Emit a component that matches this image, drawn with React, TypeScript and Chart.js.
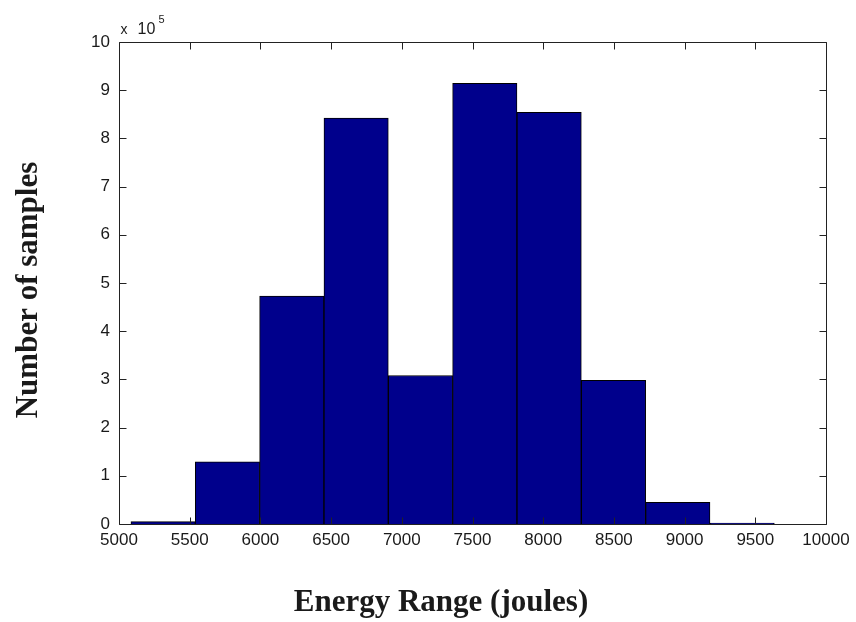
import React, { useEffect, useRef } from "react";
import { Chart, registerables } from "chart.js";

Chart.register(...registerables);

// Histogram bin centres (joules) and sample counts
const binCenters = [5312, 5767, 6222, 6677, 7132, 7587, 8042, 8497, 8952, 9407];
const sampleCounts = [5000, 129000, 473000, 842000, 308000, 914000, 854000, 298000, 45000, 2000];
const xTickValues = [5000, 5500, 6000, 6500, 7000, 7500, 8000, 8500, 9000, 9500, 10000];
const yTickValues = [0, 100000, 200000, 300000, 400000, 500000, 600000, 700000, 800000, 900000, 1000000];
const yExponent = 5;
const xTitle = "Energy Range (joules)";
const yTitle = "Number of samples";

const tickFont = { family: "'Liberation Sans', Arial, sans-serif", size: 17 };
const textColor = "#1a1a1a";

export default function App() {
  const ref = useRef<HTMLCanvasElement>(null);

  useEffect(() => {
    if (!ref.current) return;

    const framePlugin = {
      id: "matlabFrame",
      afterDraw(chart: any) {
        const { ctx, chartArea } = chart;
        const { left, right, top, bottom } = chartArea;
        const xs = chart.scales.x;
        const ys = chart.scales.y;
        ctx.save();
        ctx.strokeStyle = "#222";
        ctx.lineWidth = 1;
        const L = Math.round(left) + 0.5;
        const R = Math.round(right) + 0.5;
        const T = Math.round(top) + 0.5;
        const B = Math.round(bottom) + 0.5;
        ctx.beginPath();
        ctx.rect(L, T, R - L, B - T);
        const tl = 7;
        xTickValues.forEach((v) => {
          const px = Math.round(xs.getPixelForValue(v)) + 0.5;
          ctx.moveTo(px, B);
          ctx.lineTo(px, B - tl);
          ctx.moveTo(px, T);
          ctx.lineTo(px, T + tl);
        });
        yTickValues.forEach((v) => {
          const py = Math.round(ys.getPixelForValue(v)) + 0.5;
          ctx.moveTo(L, py);
          ctx.lineTo(L + tl, py);
          ctx.moveTo(R, py);
          ctx.lineTo(R - tl, py);
        });
        ctx.stroke();

        // exponent label
        ctx.fillStyle = textColor;
        ctx.textBaseline = "alphabetic";
        ctx.textAlign = "left";
        ctx.font = "14px 'Liberation Sans', Arial, sans-serif";
        ctx.fillText("x", L + 1, T - 9);
        ctx.font = "16px 'Liberation Sans', Arial, sans-serif";
        ctx.fillText("10", L + 18, T - 9);
        ctx.font = "11px 'Liberation Sans', Arial, sans-serif";
        ctx.fillText(String(yExponent), L + 39, T - 20);

        // axis titles
        ctx.font = "bold 31px 'Liberation Serif', 'Times New Roman', serif";
        ctx.textAlign = "center";
        ctx.textBaseline = "middle";
        ctx.fillText(xTitle, 441, 603);
        ctx.save();
        ctx.translate(29, 290);
        ctx.rotate(-Math.PI / 2);
        ctx.fillText(yTitle, 0, 0);
        ctx.restore();
        ctx.restore();
      },
    };

    const chart = new Chart(ref.current, {
      type: "bar",
      data: {
        datasets: [
          {
            data: binCenters.map((x, i) => ({ x, y: sampleCounts[i] })),
            backgroundColor: "rgb(0,0,140)",
            borderColor: "#000",
            borderWidth: 1,
            barPercentage: 1,
            categoryPercentage: 1,
          },
        ],
      },
      options: {
        responsive: false,
        animation: false,
        devicePixelRatio: 1,
        layout: { padding: { left: 0, right: 30, top: 42, bottom: 0 } },
        plugins: { legend: { display: false }, tooltip: { enabled: false } },
        scales: {
          x: {
            type: "linear",
            min: 5000,
            max: 10000,
            offset: false,
            grid: { display: false, drawTicks: false },
            border: { display: false },
            ticks: {
              autoSkip: false,
              maxRotation: 0,
              padding: 6,
              color: textColor,
              font: tickFont,
              callback: (v: any) => String(v),
            },
            afterBuildTicks: (s: any) => {
              s.ticks = xTickValues.map((v) => ({ value: v }));
            },
            afterFit: (s: any) => {
              s.height = 98;
            },
          },
          y: {
            type: "linear",
            min: 0,
            max: 1000000,
            grid: { display: false, drawTicks: false },
            border: { display: false },
            ticks: {
              autoSkip: false,
              padding: 9,
              color: textColor,
              font: tickFont,
              callback: (v: any) => String(Math.round(Number(v) / Math.pow(10, yExponent))),
            },
            afterBuildTicks: (s: any) => {
              s.ticks = yTickValues.map((v) => ({ value: v }));
            },
            afterFit: (s: any) => {
              s.width = 119;
            },
          },
        },
      },
      plugins: [framePlugin],
    });
    return () => chart.destroy();
  }, []);

  return (
    <div style={{ position: "absolute", left: 0, top: 0, width: 856, height: 622, background: "#fff" }}>
      <canvas ref={ref} width={856} height={622} style={{ display: "block" }} />
    </div>
  );
}
